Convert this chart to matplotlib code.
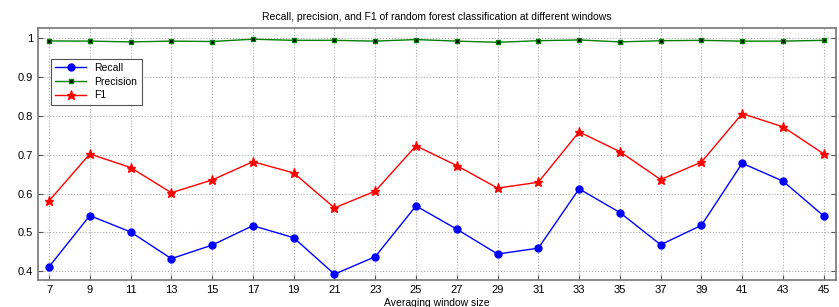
import matplotlib
matplotlib.use("Agg")
import matplotlib.pyplot as plt

windows = [7, 9, 11, 13, 15, 17, 19, 21, 23, 25, 27, 29, 31, 33, 35, 37, 39, 41, 43, 45]
recall = [0.411, 0.543, 0.501, 0.432, 0.467, 0.517, 0.486, 0.392, 0.437, 0.568,
          0.508, 0.444, 0.459, 0.612, 0.551, 0.468, 0.518, 0.678, 0.632, 0.542]
precision = [0.9935, 0.993, 0.991, 0.993, 0.992, 0.998, 0.995, 0.995, 0.993, 0.997,
             0.993, 0.990, 0.994, 0.996, 0.991, 0.994, 0.995, 0.993, 0.993, 0.995]
f1 = [0.581, 0.702, 0.667, 0.602, 0.635, 0.682, 0.653, 0.563, 0.606, 0.723,
      0.672, 0.614, 0.629, 0.759, 0.708, 0.636, 0.681, 0.806, 0.772, 0.702]
yticks = [0.4, 0.5, 0.6, 0.7, 0.8, 0.9, 1]
ytick_labels = ["0.4", "0.5", "0.6", "0.7", "0.8", "0.9", "1"]

plt.rcParams['font.family'] = ['Liberation Sans', 'DejaVu Sans']
fig = plt.figure(figsize=(8.39, 3.07), dpi=100)
ax = fig.add_axes([0.0453, 0.088, 0.9511, 0.821])

ax.plot(windows, recall, color='blue', marker='o', markersize=5, lw=1, label='Recall')
ax.plot(windows, precision, color='green', marker='s', markersize=3.5,
        markerfacecolor='black', markeredgecolor='green', markeredgewidth=1,
        lw=1, label='Precision')
ax.plot(windows, f1, color='red', marker='*', markersize=6.5, lw=1, label='F1')

ax.set_xlim(6.46, 45.6)
ax.set_ylim(0.377, 1.027)
ax.set_xticks(windows)
ax.set_yticks(yticks)
ax.set_yticklabels(ytick_labels)
ax.tick_params(direction='in', length=3.5, labelsize=8, top=False, right=True, color='#555555')
ax.grid(True, linestyle=':', color='#aaaaaa', linewidth=0.8)
for s in ax.spines.values():
    s.set_color('#777777')
    s.set_linewidth(1.2)

ax.set_title('Recall, precision, and F1 of random forest classification at different windows',
             fontsize=7.5, pad=6)
ax.set_xlabel('Averaging window size', fontsize=7.5, labelpad=2)

leg = ax.legend(loc='upper left', bbox_to_anchor=(0.016, 0.877), fontsize=7.5,
                fancybox=False, framealpha=1, edgecolor='#555555',
                borderpad=0.4, labelspacing=0.35, handlelength=3, borderaxespad=0)
leg.get_frame().set_linewidth(0.8)

fig.savefig('out.png', dpi=100)
